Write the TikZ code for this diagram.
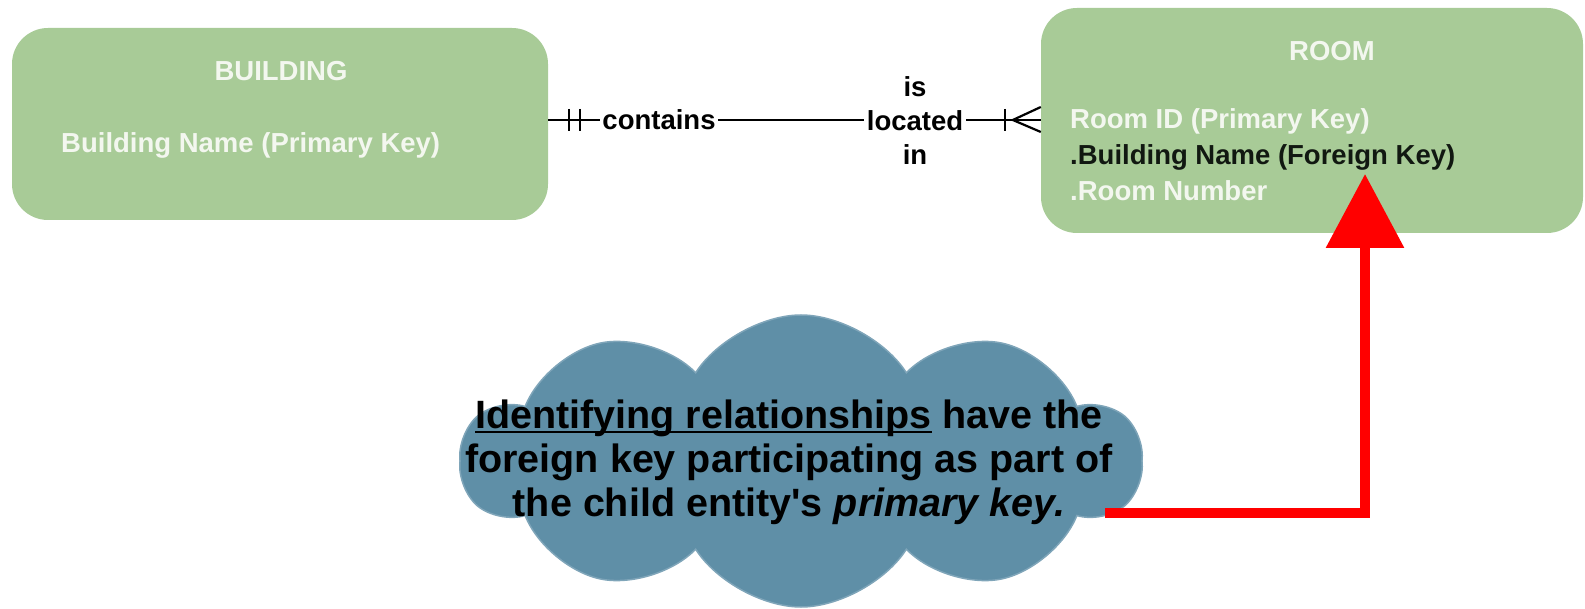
\documentclass[tikz,border=0pt]{standalone}
\usepackage{fontspec}
\setmainfont{Liberation Sans}
\usetikzlibrary{shapes.symbols,arrows.meta}
\definecolor{boxgreen}{HTML}{A8CB97}
\definecolor{boxtext}{HTML}{F3F7EF}
\definecolor{cloudblue}{HTML}{5F8FA7}
\definecolor{fkblack}{HTML}{111811}
\newcommand\myul[1]{\setbox0\hbox{#1}\rlap{\rule[-5pt]{\wd0}{2.4pt}}\box0\relax}
\begin{document}
\begin{tikzpicture}[x=1pt,y=-1pt,
  entity/.style={fill=boxgreen, rounded corners=36pt, draw=none, inner sep=0pt},
  etext/.style={font=\bfseries\fontsize{27.5}{33}\selectfont, text=boxtext, inner sep=0pt},
  lbl/.style={font=\bfseries\fontsize{27.5}{34}\selectfont, text=black, fill=white, inner sep=2.5pt},
  conn/.style={draw=black, line width=2.2pt},
  redarrow/.style={draw=red, line width=10pt, line join=miter, -{Triangle[width=76pt,length=74pt]}},
  msgtext/.style={font=\bfseries\fontsize{39.5}{44}\selectfont, text=black, align=center, inner sep=0pt}
]
\useasboundingbox (0,0) rectangle (1585,609);

% entities
\node[entity, minimum width=536pt, minimum height=192pt] (building) at (280,124) {};
\node[etext] (btitle) at (281,71) {BUILDING};
\node[etext, anchor=west] (bpk) at (61,145) {Building Name (Primary Key)};

\node[entity, minimum width=542pt, minimum height=225pt] (room) at (1312,120.5) {};
\node[etext] (rtitle) at (1332,51) {ROOM};
\node[etext, anchor=west] (rpk) at (1070,121) {Room ID (Primary Key)};
\node[etext, anchor=west, text=fkblack] (rfk) at (1070,157) {.Building Name (Foreign Key)};
\node[etext, anchor=west] (rnum) at (1070,191) {.Room Number};

% relationship line
\coordinate (L) at (building.east |- 0,120);
\coordinate (R) at (room.west |- 0,120);
\draw[conn] (L) -- (R);
\draw[conn] ([xshift=21pt,yshift=11pt]L) -- ([xshift=21pt,yshift=-11pt]L);
\draw[conn] ([xshift=32pt,yshift=11pt]L) -- ([xshift=32pt,yshift=-11pt]L);
\draw[conn] ([xshift=-36pt,yshift=11pt]R) -- ([xshift=-36pt,yshift=-11pt]R);
\draw[conn] ([yshift=13pt]R) -- ([xshift=-28pt]R) -- ([yshift=-12pt]R);
\node[lbl] (contains) at (659,120) {contains};
\node[lbl, align=center] (located) at (915,121) {is\\located\\in};

% cloud
\node[cloud, cloud puffs=10, cloud puff arc=115, cloud ignores aspect,
      minimum width=680pt, minimum height=292pt, inner sep=0pt,
      fill=cloudblue, draw=cloudblue!80!white, line width=1.5pt] (cloud) at (801,461) {};
\node[msgtext] (msg) at (789,462) {\myul{Identifying relationships} have the\\foreign key participating as part of\\the child entity\textquotesingle s \textit{primary key.}};

% red arrow
\coordinate (ra) at (1105,513);
\coordinate (tip) at (1365,174);
\draw[redarrow] (ra) -| (tip);
\end{tikzpicture}
\end{document}
